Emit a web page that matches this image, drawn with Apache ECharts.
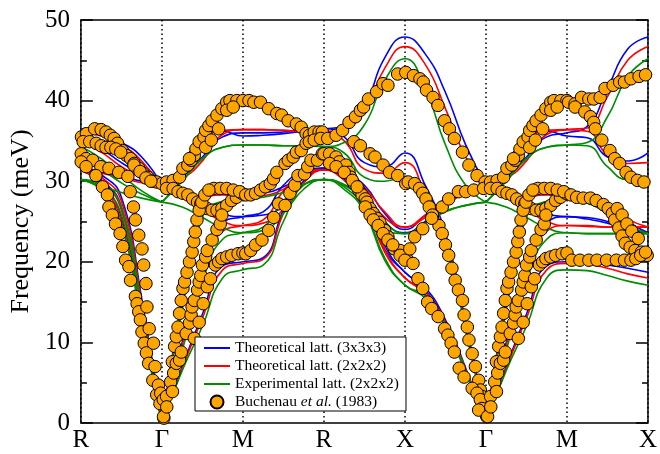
<!DOCTYPE html>
<html>
<head>
<meta charset="utf-8">
<script src="https://cdn.jsdelivr.net/npm/echarts@6/dist/echarts.min.js"></script>
<style>
  html, body { margin: 0; padding: 0; background: #fff; }
  #chart { width: 660px; height: 454px; }
</style>
</head>
<body>
<div id="chart"></div>
<script>
// High-symmetry points along the path (equal spacing, one unit per segment)
const pathLabels = ['R', 'Γ', 'M', 'R', 'X', 'Γ', 'M', 'X'];

// Wave-vector sample positions along the path
const kPoints = [0, 0.25, 0.5, 0.75, 1, 1.25, 1.5, 1.75, 2, 2.25, 2.5, 2.75, 3, 3.25, 3.5,
                 3.75, 4, 4.25, 4.5, 4.75, 5, 5.25, 5.5, 5.75, 6, 6.25, 6.5, 6.75, 7];

// Phonon branches (meV), theoretical lattice 3x3x3
const bands333 = [
  [31.6, 29.8, 25.5, 13.0, 0, 7.0, 13.5, 19.5, 20.0, 20.5, 26.5, 31.0, 31.6, 30.5, 28.0, 22.0, 18.7, 16.8, 12.8, 6.8, 0, 7.0, 13.5, 19.5, 20.0, 19.9, 19.6, 19.2, 18.7],
  [31.6, 30.2, 26.8, 14.2, 0, 10.0, 19.5, 24.8, 25.6, 26.2, 29.5, 31.2, 31.6, 30.8, 29.0, 25.0, 23.6, 25.0, 27.0, 28.6, 29.5, 28.6, 27.3, 26.0, 25.6, 25.5, 25.0, 24.2, 23.6],
  [31.7, 30.8, 28.0, 15.5, 0, 15.5, 28.0, 29.3, 28.5, 28.6, 29.3, 30.8, 31.6, 31.0, 29.5, 26.0, 24.0, 25.8, 27.8, 29.0, 29.5, 30.5, 33.0, 35.5, 36.0, 36.8, 41.5, 46.4, 47.9],
  [31.6, 31.2, 30.6, 30.0, 29.5, 28.6, 27.3, 26.0, 25.6, 25.8, 27.0, 30.0, 31.6, 30.3, 27.5, 21.5, 18.7, 16.5, 12.5, 6.5, 0, 10.0, 19.5, 24.8, 25.6, 25.3, 24.8, 24.0, 23.6],
  [35.0, 34.0, 32.3, 30.8, 29.5, 31.5, 35.5, 36.2, 35.6, 35.7, 35.9, 36.2, 36.5, 35.5, 32.3, 31.8, 33.5, 29.5, 23.5, 12.5, 0, 15.5, 28.0, 29.3, 28.5, 28.3, 27.0, 25.0, 23.6],
  [36.5, 35.8, 34.8, 33.0, 29.5, 30.5, 33.0, 35.5, 36.0, 36.0, 36.1, 36.3, 36.5, 36.8, 39.3, 45.3, 47.9, 45.8, 41.0, 34.5, 29.5, 31.5, 35.5, 36.2, 35.6, 35.4, 33.0, 32.5, 33.5]
];

// Phonon branches (meV), theoretical lattice 2x2x2
const bands222 = [
  [31.4, 29.5, 25.0, 12.7, 0, 6.8, 13.0, 19.0, 19.8, 20.3, 26.0, 30.8, 31.4, 30.3, 27.5, 21.5, 18.0, 16.3, 12.5, 6.7, 0, 6.8, 13.0, 19.0, 19.8, 19.7, 19.2, 18.5, 18.0],
  [31.4, 30.0, 26.4, 14.0, 0, 9.6, 18.8, 23.8, 24.5, 25.2, 28.8, 31.0, 31.4, 30.5, 28.5, 25.5, 24.3, 25.5, 27.2, 28.5, 29.3, 28.0, 26.5, 25.0, 24.5, 24.5, 24.3, 24.3, 24.3],
  [31.5, 30.5, 27.5, 15.0, 0, 15.0, 27.0, 28.3, 28.0, 28.2, 29.0, 30.6, 31.4, 30.8, 29.2, 26.2, 24.3, 25.8, 27.5, 28.8, 29.3, 30.3, 32.5, 35.8, 36.4, 36.6, 40.5, 45.0, 46.7],
  [31.4, 31.0, 30.4, 29.8, 29.3, 28.0, 26.5, 25.0, 24.5, 24.8, 26.5, 29.8, 31.4, 30.1, 27.2, 21.2, 18.0, 16.0, 12.2, 6.4, 0, 9.6, 18.8, 23.8, 24.5, 24.4, 24.3, 24.3, 24.3],
  [34.8, 33.6, 31.8, 30.4, 29.3, 31.0, 34.8, 36.3, 36.4, 36.4, 36.3, 36.2, 36.2, 35.0, 31.5, 31.0, 32.3, 28.5, 23.0, 12.0, 0, 15.0, 27.0, 28.3, 28.0, 28.0, 27.0, 25.3, 24.3],
  [36.2, 35.6, 34.5, 32.5, 29.3, 30.3, 32.5, 35.8, 36.4, 36.4, 36.3, 36.2, 36.2, 36.5, 38.8, 44.0, 46.7, 44.5, 39.0, 33.0, 29.3, 31.0, 34.8, 36.3, 36.4, 36.2, 33.2, 32.2, 32.3]
];

// Phonon branches (meV), experimental lattice 2x2x2
const bandsExp = [
  [30.2, 28.9, 24.5, 12.2, 0, 6.5, 12.0, 18.0, 19.0, 19.6, 25.0, 29.5, 30.2, 29.3, 26.5, 20.5, 17.1, 15.8, 12.2, 6.5, 0, 6.5, 12.0, 18.0, 19.0, 18.9, 18.3, 17.6, 17.1],
  [30.2, 29.2, 25.8, 13.5, 0, 9.0, 17.5, 22.8, 23.6, 24.3, 27.5, 29.6, 30.2, 29.5, 27.5, 24.0, 23.5, 24.8, 26.3, 27.0, 27.4, 26.8, 25.5, 24.2, 23.6, 23.5, 23.5, 23.5, 23.5],
  [30.2, 29.6, 26.8, 14.3, 0, 14.0, 25.5, 27.5, 27.8, 28.0, 28.6, 29.6, 30.2, 29.6, 28.0, 25.0, 23.5, 24.8, 26.2, 27.0, 27.4, 30.0, 32.8, 34.2, 34.5, 34.8, 38.0, 43.0, 45.2],
  [30.2, 29.4, 28.6, 27.9, 27.4, 26.8, 25.5, 24.2, 23.6, 23.9, 26.0, 29.0, 30.2, 29.0, 26.2, 20.2, 17.1, 15.5, 11.9, 6.2, 0, 9.0, 17.5, 22.8, 23.6, 23.5, 23.5, 23.5, 23.5],
  [33.0, 31.5, 29.8, 28.4, 27.4, 30.0, 32.8, 34.2, 34.5, 34.5, 34.4, 34.4, 34.3, 33.5, 30.5, 30.0, 30.6, 27.5, 22.5, 11.5, 0, 14.0, 25.5, 27.5, 27.8, 27.3, 26.0, 24.5, 23.5],
  [34.3, 32.8, 30.8, 28.8, 27.4, 30.0, 32.8, 34.2, 34.5, 34.5, 34.4, 34.4, 34.3, 34.8, 37.0, 42.5, 45.2, 41.5, 34.5, 29.5, 27.4, 30.0, 32.8, 34.2, 34.5, 34.4, 31.8, 30.2, 30.6]
];

// Neutron data, [position within segment, meV]
const measuredRG = [
  [0.007, 35.5], [0.068, 35.9], [0.17, 36.5], [0.25, 36.4], [0.31, 36.1], [0.363, 35.7], [0.41, 35.3], [0.452, 34.7], [0.512, 33.8], [0.561, 33.2], [0.613, 32.8], [0.658, 32.2], [0.715, 31.6], [0.767, 31.0], [0.827, 30.5], [0.888, 30.0], [0.936, 29.9], [0.997, 29.7],
  [0.028, 34.9], [0.109, 34.9], [0.189, 34.7], [0.25, 34.4], [0.31, 34.2], [0.37, 34.2], [0.431, 34.0], [0.492, 33.6], [0.654, 32.0], [0.73, 31.2], [0.803, 30.4], [0.864, 30.0],
  [0.004, 33.4], [0.064, 32.8], [0.145, 32.6], [0.246, 31.8], [0.346, 31.6], [0.467, 31.1], [0.58, 30.6],
  [0.004, 32.4], [0.064, 31.8], [0.185, 30.7], [0.266, 29.3], [0.327, 28.3], [0.346, 26.8], [0.388, 25.8], [0.427, 24.7], [0.484, 23.5], [0.518, 21.9], [0.552, 20.2], [0.593, 19.4], [0.613, 17.7], [0.673, 15.7], [0.694, 14.8], [0.714, 13.8], [0.734, 12.8], [0.754, 11.3], [0.782, 9.9], [0.809, 8.7], [0.836, 7.4], [0.888, 5.3], [0.936, 3.5], [0.976, 2.4],
  [0.609, 28.7], [0.649, 26.8], [0.673, 25.2], [0.714, 23.3], [0.754, 21.6], [0.775, 19.6], [0.803, 17.3], [0.815, 14.4], [0.843, 11.7], [0.896, 9.9], [0.915, 7.0], [0.957, 4.7], [0.985, 3.7], [1.017, 2.9], [1.024, 0.6]
];

const measuredGM = [
  [0.057, 29.9], [0.138, 30.1], [0.218, 30.5], [0.259, 31.6], [0.32, 32.0], [0.36, 32.6], [0.40, 33.2], [0.42, 34.0], [0.46, 34.9], [0.52, 35.5], [0.54, 36.3], [0.58, 36.9], [0.62, 37.5], [0.68, 38.2], [0.74, 39.0], [0.80, 39.8], [0.84, 40.0], [0.925, 40.0], [1.0, 40.0],
  [0.34, 32.8], [0.54, 34.2], [0.61, 35.1], [0.70, 36.5], [0.80, 38.8], [0.88, 39.2],
  [0.057, 29.1], [0.138, 29.1], [0.199, 28.7], [0.259, 28.5], [0.32, 28.3], [0.38, 27.8], [0.44, 27.4], [0.48, 27.2], [0.52, 26.8], [0.56, 26.6], [0.62, 26.4], [0.68, 26.4], [0.74, 26.6], [0.80, 27.0], [0.86, 27.6], [0.92, 28.0], [0.986, 28.5],
  [0.64, 29.1], [0.72, 29.1], [0.80, 29.1], [0.88, 28.9], [0.96, 28.7],
  [0.057, 3.3], [0.108, 5.1], [0.129, 7.6], [0.157, 9.5], [0.178, 10.7], [0.199, 11.9], [0.218, 13.6], [0.239, 15.2], [0.26, 16.7], [0.28, 17.5], [0.31, 18.7], [0.34, 20.0], [0.373, 21.2], [0.393, 22.5], [0.412, 23.7], [0.433, 25.2], [0.46, 26.4], [0.493, 27.4], [0.53, 28.3], [0.58, 28.9],
  [0.13, 3.9], [0.145, 6.2], [0.178, 7.4], [0.218, 7.8], [0.239, 8.8], [0.30, 11.1], [0.34, 12.4], [0.36, 13.4], [0.373, 14.4], [0.40, 15.2], [0.44, 16.5], [0.46, 17.5], [0.48, 18.3], [0.50, 19.6], [0.54, 20.6], [0.56, 21.4], [0.62, 22.7], [0.68, 24.0], [0.72, 24.7], [0.74, 25.8],
  [0.40, 10.5], [0.46, 12.5], [0.51, 14.8], [0.56, 16.9], [0.60, 17.9], [0.66, 19.6], [0.70, 20.0], [0.74, 20.4], [0.80, 20.6], [0.86, 20.8], [0.94, 21.0], [1.0, 21.1],
  [0.02, 0.8], [0.06, 2.0]
];

const measuredMR = [
  [0.075, 40.0], [0.135, 39.8], [0.217, 39.8], [0.317, 39.0], [0.418, 38.4], [0.478, 38.2], [0.559, 37.5], [0.66, 37.1], [0.72, 36.7], [0.78, 35.9], [0.82, 35.7], [0.88, 36.1], [0.94, 36.1], [0.98, 36.1],
  [0.035, 28.3], [0.096, 28.3], [0.156, 28.5], [0.217, 28.9], [0.277, 29.3], [0.338, 29.7], [0.378, 30.3], [0.418, 31.1], [0.52, 32.2], [0.56, 32.6], [0.62, 33.0], [0.66, 33.6], [0.72, 33.8], [0.78, 34.7], [0.82, 34.9], [0.88, 35.1], [0.96, 35.3],
  [0.035, 21.0], [0.096, 21.4], [0.156, 22.1], [0.235, 22.7], [0.317, 23.9], [0.38, 25.5], [0.44, 27.2], [0.52, 27.0], [0.58, 28.5], [0.64, 29.5], [0.68, 30.7], [0.76, 30.9], [0.80, 31.8], [0.84, 32.6], [0.92, 32.6], [0.98, 33.4]
];

const measuredRX = [
  [0.047, 35.3], [0.15, 35.7], [0.23, 36.3], [0.31, 37.3], [0.39, 38.0], [0.45, 38.8], [0.49, 39.2], [0.55, 40.2], [0.65, 41.1], [0.73, 42.1], [0.79, 41.9], [0.91, 43.3], [1.01, 43.5],
  [0.37, 34.9], [0.45, 34.4], [0.57, 33.4], [0.63, 33.0], [0.73, 32.0], [0.81, 31.1], [0.91, 30.7], [1.01, 29.7],
  [0.0, 33.4], [0.07, 33.4], [0.15, 33.0], [0.19, 32.4], [0.27, 32.0], [0.31, 31.1], [0.33, 30.5], [0.37, 29.7], [0.43, 28.9], [0.47, 28.3], [0.51, 27.8], [0.53, 27.4], [0.57, 26.6], [0.61, 26.0], [0.65, 25.4], [0.69, 24.9], [0.75, 23.9], [0.79, 23.1], [0.87, 21.6], [0.94, 21.4], [1.02, 20.4],
  [0.07, 32.2], [0.15, 31.8], [0.25, 31.1], [0.35, 30.1], [0.41, 29.3], [0.51, 26.8], [0.57, 25.8], [0.61, 25.2], [0.67, 24.5], [0.73, 23.5], [0.79, 22.7], [0.85, 22.1], [0.94, 20.8], [1.0, 20.2]
];

const measuredXG = [
  [0.105, 43.1], [0.185, 42.7], [0.226, 42.3], [0.266, 41.3], [0.347, 40.4], [0.408, 39.4], [0.488, 37.5], [0.549, 36.5], [0.61, 35.3], [0.71, 33.6], [0.79, 32.0], [0.89, 30.7], [0.99, 29.9],
  [0.04, 29.9], [0.12, 29.7], [0.18, 29.1], [0.22, 28.5], [0.26, 27.8], [0.30, 26.8], [0.34, 25.8], [0.42, 24.5], [0.46, 23.5], [0.50, 22.1], [0.54, 20.8], [0.58, 19.2], [0.62, 17.7], [0.66, 16.5], [0.71, 15.2], [0.73, 13.4], [0.77, 11.9], [0.79, 10.3], [0.83, 8.6], [0.87, 7.0], [0.91, 5.3], [0.93, 4.1], [0.95, 3.3], [0.99, 2.4], [1.01, 0.8],
  [0.06, 21.6], [0.10, 19.8], [0.16, 17.9], [0.22, 16.7], [0.28, 15.0], [0.33, 14.2], [0.41, 13.2], [0.49, 11.7], [0.53, 10.9], [0.57, 9.9], [0.61, 8.8], [0.67, 6.8], [0.73, 5.7], [0.83, 4.3], [0.89, 3.7], [0.93, 2.9], [0.95, 1.8], [0.91, 1.6],
  [0.12, 23.1], [0.22, 24.1], [0.33, 25.4], [0.46, 26.8], [0.54, 27.8], [0.66, 28.7], [0.75, 28.7], [0.85, 28.9], [0.97, 29.1]
];

const measuredMX = [
  [0.02, 39.8], [0.10, 39.6], [0.18, 40.4], [0.27, 40.2], [0.33, 40.2], [0.41, 40.4], [0.47, 41.5], [0.57, 41.9], [0.65, 42.3], [0.71, 42.3], [0.79, 42.7], [0.89, 43.0], [0.97, 43.2],
  [0.10, 39.2], [0.22, 38.6], [0.29, 38.0], [0.33, 37.3], [0.35, 36.5], [0.43, 35.1], [0.53, 33.8], [0.59, 32.8], [0.65, 32.2], [0.73, 31.1], [0.79, 30.5], [0.87, 30.1], [0.95, 29.9],
  [0.05, 28.3], [0.12, 28.0], [0.20, 27.9], [0.29, 27.9], [0.36, 27.6], [0.45, 27.1], [0.51, 26.6], [0.56, 26.0], [0.59, 25.2], [0.64, 24.2], [0.68, 23.2], [0.72, 22.3], [0.78, 21.8], [0.84, 21.4], [0.92, 21.2], [0.99, 20.8],
  [0.62, 26.6], [0.68, 25.8], [0.74, 24.7], [0.80, 23.8], [0.88, 22.9],
  [0.06, 20.2], [0.16, 20.2], [0.27, 20.2], [0.37, 20.2], [0.49, 20.2], [0.61, 20.2], [0.71, 20.2], [0.79, 20.2], [0.85, 20.4], [0.91, 20.8], [0.97, 21.2]
];

const seriesNames = ['Theoretical latt. (3x3x3)', 'Theoretical latt. (2x2x2)', 'Experimental latt. (2x2x2)', 'Buchenau et al. (1983)'];
const seriesColors = ['#0000ff', '#ff0000', '#008c00', '#ffa500'];

const SERIF = '"Liberation Serif", "DejaVu Serif", serif';

// Branches are drawn in three pieces so the curves can kink at Γ
const pieces = [[0, 4], [4, 20], [20, 28]];

function bandSeries(bands, name, color) {
  const list = [];
  bands.forEach(band => {
    pieces.forEach(([a, b]) => {
      const data = [];
      for (let i = a; i <= b; i++) data.push([kPoints[i], band[i]]);
      list.push({
        name: name,
        type: 'line',
        data: data,
        smooth: 0.5,
        symbol: 'none',
        silent: true,
        z: 2,
        lineStyle: { color: color, width: 1.6 },
        itemStyle: { color: color }
      });
    });
  });
  return list;
}

// Place each segment's measurements at its start along the path
function placed(points, start) {
  return points.map(p => [p[0] + start, p[1]]);
}
const measured = [].concat(
  placed(measuredRG, 0), placed(measuredGM, 1), placed(measuredMR, 2),
  placed(measuredRX, 3), placed(measuredXG, 4), placed(measuredGM, 5), placed(measuredMX, 6)
);

const series = [].concat(
  bandSeries(bands333, seriesNames[0], seriesColors[0]),
  bandSeries(bands222, seriesNames[1], seriesColors[1]),
  bandSeries(bandsExp, seriesNames[2], seriesColors[2]),
  [{
    name: seriesNames[3],
    type: 'scatter',
    data: measured,
    symbol: 'circle',
    symbolSize: 12.5,
    silent: true,
    z: 5,
    itemStyle: { color: seriesColors[3], borderColor: '#000', borderWidth: 1, opacity: 1 }
  }]
);

// Legend entries: plain line samples for the calculations, a circle for the data
const legendEntries = seriesNames.map((name, i) => i < 3
  ? { name: name, itemStyle: { opacity: 0 } }
  : { name: name, icon: 'circle' });

const chart = echarts.init(document.getElementById('chart'), null, { renderer: 'canvas' });
chart.setOption({
  animation: false,
  backgroundColor: '#fff',
  grid: { left: 73, right: 9, top: 20, bottom: 31, show: true, borderColor: '#000', borderWidth: 1.5, backgroundColor: 'transparent' },
  xAxis: {
    type: 'value', min: 0, max: 7, interval: 1,
    axisLine: { show: false },
    axisTick: { show: false },
    splitLine: { show: true, lineStyle: { color: '#000', width: 1.5, type: [1.5, 3] } },
    axisLabel: {
      margin: 5, color: '#000', fontFamily: SERIF, fontSize: 25,
      formatter: v => pathLabels[Math.round(v)]
    }
  },
  yAxis: [
    {
      type: 'value', min: 0, max: 50, interval: 10, position: 'left',
      name: 'Frequency (meV)', nameLocation: 'middle', nameGap: 37,
      nameTextStyle: { color: '#000', fontFamily: SERIF, fontSize: 26 },
      axisLine: { show: false },
      axisTick: { show: true, inside: true, length: 12, lineStyle: { color: '#000', width: 1.5 } },
      minorTick: { show: true, splitNumber: 2, length: 6, lineStyle: { color: '#000', width: 1.5 } },
      splitLine: { show: false },
      axisLabel: { margin: 11, color: '#000', fontFamily: SERIF, fontSize: 25 }
    },
    {
      type: 'value', min: 0, max: 50, interval: 10, position: 'right',
      axisLine: { show: false },
      axisTick: { show: true, inside: true, length: 12, lineStyle: { color: '#000', width: 1.5 } },
      minorTick: { show: true, splitNumber: 2, length: 6, lineStyle: { color: '#000', width: 1.5 } },
      splitLine: { show: false },
      axisLabel: { show: false }
    }
  ],
  legend: {
    data: legendEntries,
    orient: 'vertical',
    left: 195, top: 337,
    padding: [3, 7, 1, 8],
    itemGap: 2,
    itemWidth: 26, itemHeight: 13,
    backgroundColor: '#fff',
    borderColor: '#000', borderWidth: 1, borderRadius: 0,
    z: 10,
    selectedMode: false,
    textStyle: {
      color: '#000', fontFamily: SERIF, fontSize: 15.5,
      rich: { i: { fontStyle: 'italic', fontFamily: SERIF, fontSize: 15.5, color: '#000' } }
    },
    formatter: name => name === seriesNames[3] ? 'Buchenau {i|et al.} (1983)' : name
  },
  series: series
});
</script>
</body>
</html>
